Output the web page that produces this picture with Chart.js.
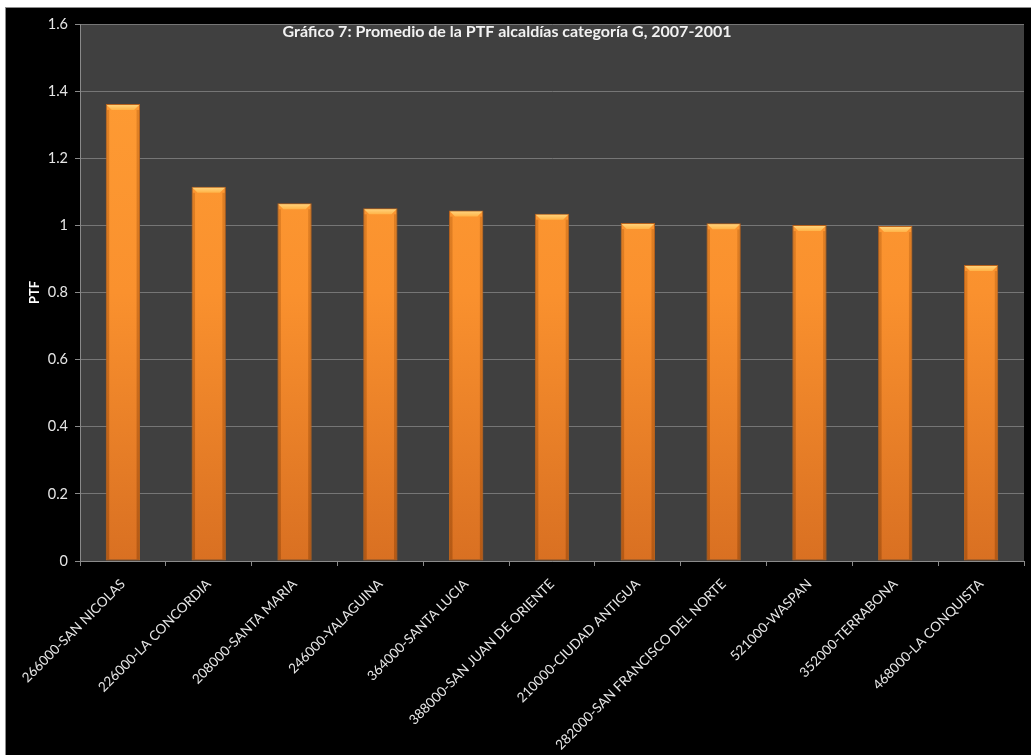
<!DOCTYPE html>
<html>
<head>
<meta charset="utf-8">
<script src="https://cdn.jsdelivr.net/npm/chart.js@4"></script>
<style>
  html, body { margin: 0; padding: 0; background: #ffffff; }
  #box {
    position: absolute; left: 5px; top: 7px;
    width: 1026px; height: 748px;
    background: #000000;
    border-left: 1px solid #8c8c8c; border-top: 1px solid #8c8c8c;
    box-sizing: border-box;
  }
  canvas { display: block; }
</style>
</head>
<body>
<div id="box"><canvas id="c" width="1025" height="747"></canvas></div>
<script>
// Municipalities (code-name) and their average PTF
const categories = [
  '266000-SAN NICOLAS', '226000-LA CONCORDIA', '208000-SANTA MARIA', '246000-YALAGUINA',
  '364000-SANTA LUCIA', '388000-SAN JUAN DE ORIENTE', '210000-CIUDAD ANTIGUA',
  '282000-SAN FRANCISCO DEL NORTE', '521000-WASPAN', '352000-TERRABONA', '468000-LA CONQUISTA'
];
const ptfValues = [1.362, 1.115, 1.066, 1.051, 1.044, 1.035, 1.007, 1.006, 1.001, 0.998, 0.882];
const yTicks = ['0', '0.2', '0.4', '0.6', '0.8', '1', '1.2', '1.4', '1.6'];
const chartTitle = 'Gráfico 7: Promedio de la PTF alcaldías categoría G, 2007-2001';
const yTitle = 'PTF';

const FONT = 'Lato, "Open Sans", sans-serif';

// Dark plot background behind the bars
const plotBackground = {
  id: 'plotBackground',
  beforeDraw(chart) {
    const { ctx, chartArea: a } = chart;
    ctx.save();
    ctx.fillStyle = '#404040';
    ctx.fillRect(a.left, a.top, a.right - a.left, a.bottom - a.top);
    ctx.restore();
  }
};

// Bevelled highlight on top of every bar
const barBevel = {
  id: 'barBevel',
  afterDatasetsDraw(chart) {
    const ctx = chart.ctx;
    chart.getDatasetMeta(0).data.forEach(bar => {
      const l = bar.x - bar.width / 2 + 1, r = bar.x + bar.width / 2 - 1, t = bar.y + 1;
      const d = 5;
      ctx.save();
      const g = ctx.createLinearGradient(0, t, 0, t + d);
      g.addColorStop(0, '#ffd27a');
      g.addColorStop(1, '#ffb347');
      ctx.fillStyle = g;
      ctx.beginPath();
      ctx.moveTo(l, t);
      ctx.lineTo(r, t);
      ctx.lineTo(r - d, t + d);
      ctx.lineTo(l + d, t + d);
      ctx.closePath();
      ctx.fill();
      // darker side edges
      const sg = ctx.createLinearGradient(0, bar.y, 0, bar.base);
      sg.addColorStop(0, 'rgba(190,100,20,0.45)');
      sg.addColorStop(1, 'rgba(150,70,10,0.55)');
      ctx.fillStyle = sg;
      ctx.fillRect(l, t + d, 2.5, bar.base - t - d - 1);
      ctx.fillRect(r - 2.5, t + d, 2.5, bar.base - t - d - 1);
      ctx.restore();
    });
  }
};

// Title written inside the plot area
const innerTitle = {
  id: 'innerTitle',
  afterDraw(chart) {
    const ctx = chart.ctx;
    ctx.save();
    ctx.font = 'bold 16px ' + FONT;
    ctx.fillStyle = '#f2f2f2';
    ctx.textAlign = 'center';
    ctx.textBaseline = 'alphabetic';
    ctx.fillText(chartTitle, 501, 28.5);
    ctx.restore();
  }
};

function barFill(context) {
  const a = context.chart.chartArea;
  if (!a) return '#f7912e';
  const g = context.chart.ctx.createLinearGradient(0, a.top, 0, a.bottom);
  g.addColorStop(0, '#ff9e35');
  g.addColorStop(0.5, '#fa912e');
  g.addColorStop(1, '#d97022');
  return g;
}

new Chart(document.getElementById('c'), {
  type: 'bar',
  data: {
    labels: categories,
    datasets: [{
      data: ptfValues,
      backgroundColor: barFill,
      borderColor: '#b8621c',
      borderWidth: 1,
      borderSkipped: false,
      categoryPercentage: 1.0,
      barPercentage: 0.4
    }]
  },
  options: {
    responsive: false,
    animation: false,
    layout: { padding: { top: 16, right: 7, left: 0, bottom: 0 } },
    plugins: { legend: { display: false }, tooltip: { enabled: false }, title: { display: false } },
    scales: {
      x: {
        afterFit(scale) { scale.height = 194; },
        grid: { display: true, drawOnChartArea: false, offset: true, color: '#8a8a8a', tickLength: 5 },
        border: { color: '#8a8a8a' },
        ticks: {
          color: '#e6e6e6', font: { family: FONT, size: 13.5 },
          maxRotation: 45, minRotation: 45, autoSkip: false, padding: 10
        }
      },
      y: {
        min: 0, max: 1.6,
        afterFit(scale) { scale.width = 74; },
        afterBuildTicks(scale) {
          scale.ticks = yTicks.map(v => ({ value: parseFloat(v) }));
        },
        grid: { color: '#767676', tickLength: 5, tickColor: '#8a8a8a' },
        border: { color: '#8a8a8a' },
        ticks: {
          color: '#e6e6e6', font: { family: FONT, size: 14.5 }, padding: 7,
          callback: (v, i) => yTicks[i]
        },
        title: {
          display: true, text: yTitle, color: '#ffffff',
          font: { family: FONT, size: 13, weight: 'bold' },
          padding: { top: 21, bottom: 0 }
        }
      }
    }
  },
  plugins: [plotBackground, barBevel, innerTitle]
});
</script>
</body>
</html>
